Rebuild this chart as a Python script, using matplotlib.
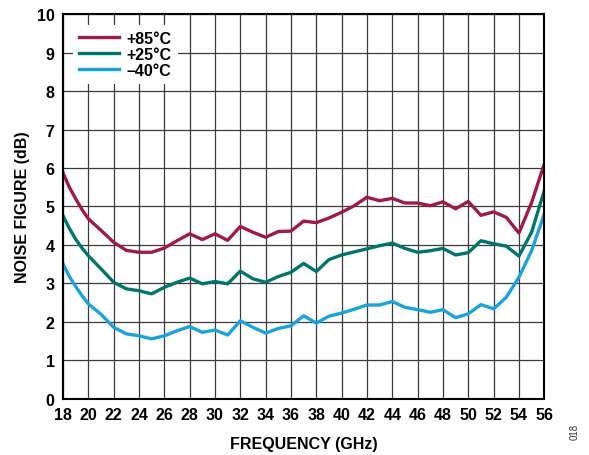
import numpy as np
import matplotlib
matplotlib.use('Agg')
import matplotlib.pyplot as plt

plt.rcParams['font.family'] = ['Liberation Sans', 'DejaVu Sans']

# ---------- data ----------
freq = [18, 18.5, 19, 19.5, 20, 21, 22, 23, 24, 25, 26, 27, 28, 29, 30, 31, 32,
        33, 34, 35, 36, 37, 38, 39, 40, 41, 42, 43, 44, 45, 46, 47, 48, 49, 50,
        51, 52, 53, 54, 55, 56]

nf_85 = [5.87, 5.50, 5.20, 4.92, 4.68, 4.38, 4.07, 3.86, 3.81, 3.81, 3.92, 4.11,
         4.29, 4.14, 4.29, 4.12, 4.48, 4.33, 4.20, 4.35, 4.36, 4.62, 4.58, 4.70,
         4.85, 5.02, 5.24, 5.15, 5.21, 5.09, 5.09, 5.02, 5.12, 4.94, 5.13, 4.77,
         4.86, 4.72, 4.31, 5.10, 6.10]

nf_25 = [4.76, 4.43, 4.15, 3.92, 3.72, 3.38, 3.03, 2.86, 2.81, 2.73, 2.90, 3.03,
         3.14, 2.99, 3.05, 2.99, 3.32, 3.12, 3.03, 3.18, 3.29, 3.52, 3.31, 3.62,
         3.74, 3.82, 3.90, 3.98, 4.05, 3.91, 3.81, 3.85, 3.91, 3.74, 3.80, 4.11,
         4.03, 3.97, 3.71, 4.33, 5.41]

nf_m40 = [3.51, 3.18, 2.92, 2.68, 2.47, 2.20, 1.86, 1.69, 1.64, 1.56, 1.64, 1.77,
          1.88, 1.73, 1.79, 1.66, 2.03, 1.86, 1.71, 1.83, 1.90, 2.16, 1.97, 2.15,
          2.23, 2.33, 2.44, 2.44, 2.53, 2.38, 2.32, 2.25, 2.32, 2.11, 2.21, 2.45,
          2.34, 2.64, 3.16, 3.85, 4.80]

labels = ['+85°C', '+25°C', '\u201340°C']
colors = ['#9E1B45', '#00756A', '#1AA3DB']

# ---------- figure ----------
fig = plt.figure(figsize=(5.89, 4.56), dpi=100)
ax = fig.add_axes([0.107, 0.123, 0.817, 0.844])

for y, lab, c in zip([nf_85, nf_25, nf_m40], labels, colors):
    ax.plot(freq, y, color=c, lw=2.4, label=lab, solid_joinstyle='round')

ax.set_xlim(18, 56)
ax.set_ylim(0, 10)
ax.set_xticks(np.arange(18, 57, 2))
ax.set_yticks(np.arange(0, 11, 1))
ax.grid(True, color='#3a3a3a', lw=0.9)
ax.set_axisbelow(True)
ax.tick_params(length=0, pad=6, labelsize=11.5)
for lbl in ax.get_xticklabels() + ax.get_yticklabels():
    lbl.set_fontweight('bold')
for s in ax.spines.values():
    s.set_color('black')
    s.set_linewidth(1.5)

ax.set_xlabel('FREQUENCY (GHz)', fontsize=11.5, fontweight='bold', labelpad=10)
ax.set_ylabel('NOISE FIGURE (dB)', fontsize=11.5, fontweight='bold', labelpad=5)

leg = ax.legend(loc='upper left', bbox_to_anchor=(0.01, 0.985), frameon=True,
                fancybox=False, framealpha=1, edgecolor='none',
                handlelength=2.5, handletextpad=0.45, borderaxespad=0.3,
                borderpad=0.4, labelspacing=0.05,
                prop={'weight': 'bold', 'size': 11.5})
leg.get_frame().set_linewidth(0)

fig.text(0.975, 0.035, '018', rotation=90, fontsize=7, color='#333333',
         ha='center', va='bottom')

plt.savefig('out.png', dpi=100)
